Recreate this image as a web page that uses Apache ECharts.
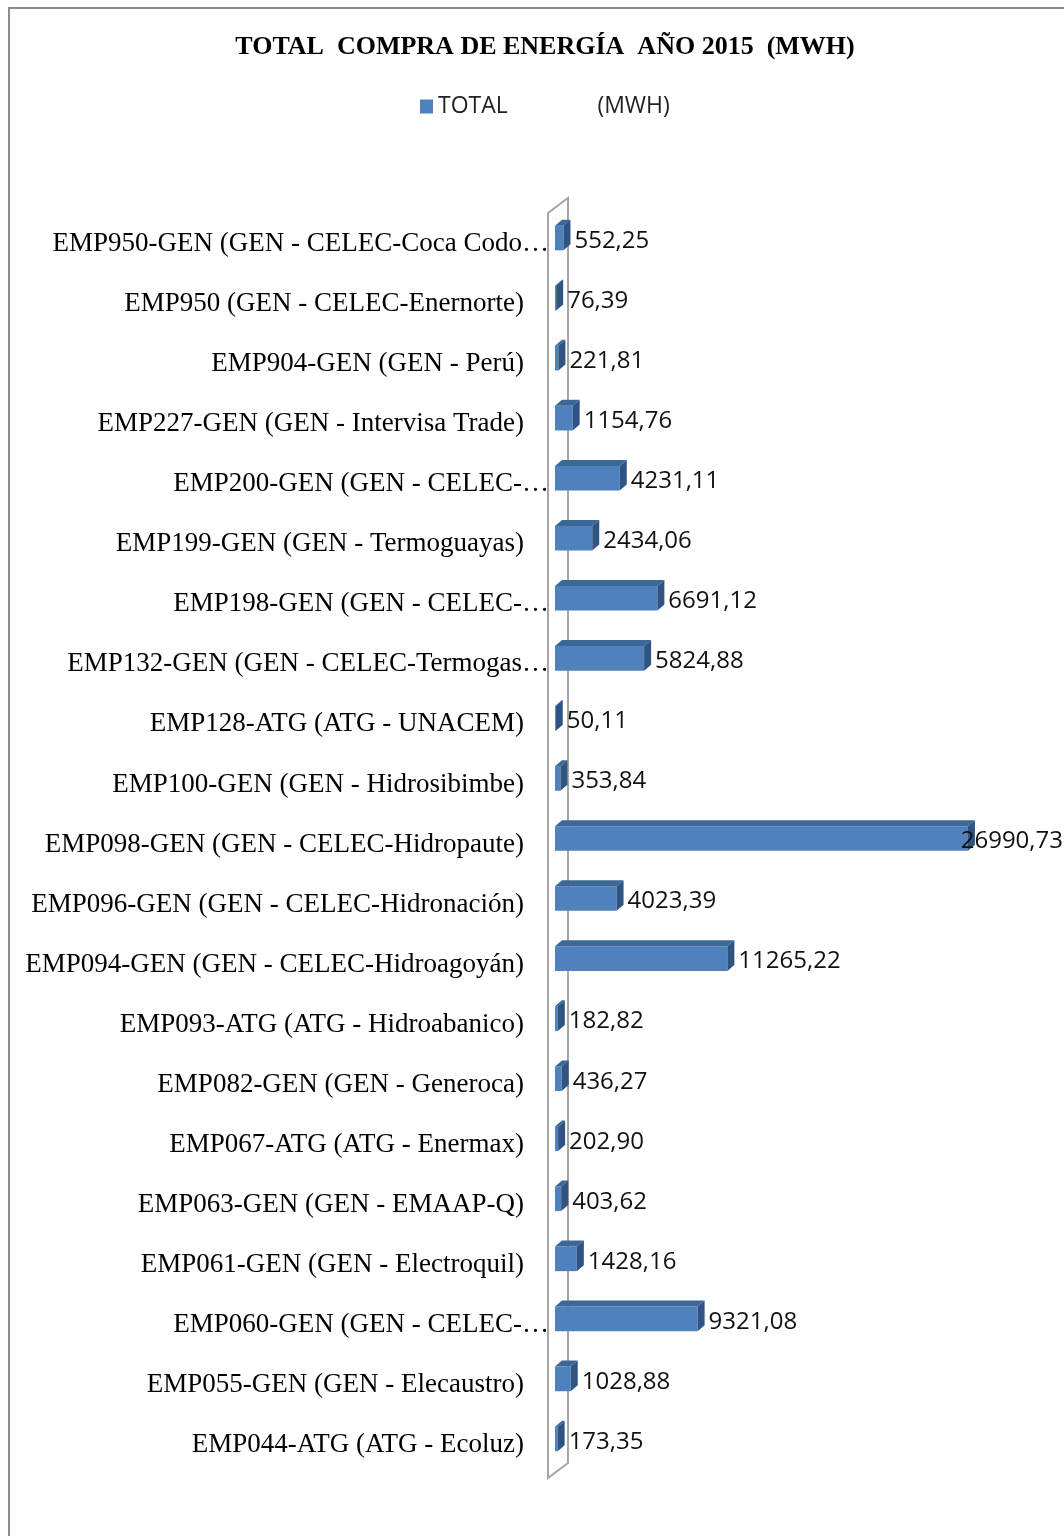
<!DOCTYPE html>
<html>
<head>
<meta charset="utf-8">
<script src="https://cdn.jsdelivr.net/npm/echarts@6/dist/echarts.min.js"></script>
<style>
  html, body { margin: 0; padding: 0; background: #fff; }
  #chart { width: 1064px; height: 1536px; }
</style>
</head>
<body>
<div id="chart"></div>
<script>
// empresas (etiquetas tal como aparecen, recortadas)
var categories = [
  'EMP950-GEN (GEN - CELEC-Coca Codo…',
  'EMP950 (GEN - CELEC-Enernorte)',
  'EMP904-GEN (GEN - Perú)',
  'EMP227-GEN (GEN - Intervisa Trade)',
  'EMP200-GEN (GEN - CELEC-…',
  'EMP199-GEN (GEN - Termoguayas)',
  'EMP198-GEN (GEN - CELEC-…',
  'EMP132-GEN (GEN - CELEC-Termogas…',
  'EMP128-ATG (ATG - UNACEM)',
  'EMP100-GEN (GEN - Hidrosibimbe)',
  'EMP098-GEN (GEN - CELEC-Hidropaute)',
  'EMP096-GEN (GEN - CELEC-Hidronación)',
  'EMP094-GEN (GEN - CELEC-Hidroagoyán)',
  'EMP093-ATG (ATG - Hidroabanico)',
  'EMP082-GEN (GEN - Generoca)',
  'EMP067-ATG (ATG - Enermax)',
  'EMP063-GEN (GEN - EMAAP-Q)',
  'EMP061-GEN (GEN - Electroquil)',
  'EMP060-GEN (GEN - CELEC-…',
  'EMP055-GEN (GEN - Elecaustro)',
  'EMP044-ATG (ATG - Ecoluz)'
];
// total MWh
var totals = [
  552.25, 76.39, 221.81, 1154.76, 4231.11, 2434.06, 6691.12, 5824.88, 50.11, 353.84,
  26990.73, 4023.39, 11265.22, 182.82, 436.27, 202.90, 403.62, 1428.16, 9321.08, 1028.88, 173.35
];
var seriesName = 'TOTAL               (MWH)';

var chart = echarts.init(document.getElementById('chart'));

var DX = 7, DY = 6;
var SERIF = '"Liberation Serif", "DejaVu Serif", serif';

function fmt(v) {
  return v.toFixed(2).replace('.', ',');
}

function renderBar(params, api) {
  var idx = api.value(1);
  var start = api.coord([0, idx]);
  var end = api.coord([api.value(0), idx]);
  var h = api.size([0, 1])[1] * 0.41;
  var x0 = start[0], x1 = end[0];
  var yt = start[1] - h / 2, yb = start[1] + h / 2;
  var label = fmt(api.value(0));
  var tx = x1 + DX + 4, align = 'left';
  if (tx + label.length * 13.5 > 1062) { tx = 1063; align = 'right'; }
  return {
    type: 'group',
    children: [
      { type: 'rect', shape: { x: x0, y: yt, width: Math.max(x1 - x0, 0.5), height: h },
        style: { fill: '#4F81BD' } },
      { type: 'polygon', shape: { points: [[x0, yt], [x0 + DX, yt - DY], [x1 + DX, yt - DY], [x1, yt]] },
        style: { fill: '#3D6796' } },
      { type: 'polygon', shape: { points: [[x1, yt], [x1 + DX, yt - DY], [x1 + DX, yb - DY], [x1, yb]] },
        style: { fill: '#2F5483' } },
      { type: 'text', z2: 10, style: { x: tx, y: start[1] + 3, text: label, align: align, verticalAlign: 'middle',
        font: '24px "Open Sans"', fill: '#111' } }
    ]
  };
}

function renderWall(params, api) {
  var cs = params.coordSys;
  var x0 = api.coord([0, 0])[0];
  var top = cs.y, bot = cs.y + cs.height;
  return {
    type: 'polygon',
    shape: { points: [[x0 - 7, top + 5], [x0 - 7, bot + 9], [x0 + 13, bot - 6], [x0 + 13, top - 10]] },
    style: { fill: '#fff', stroke: '#A6A6A6', lineWidth: 2 }
  };
}

var option = {
  animation: false,
  backgroundColor: '#fff',
  title: {
    text: 'TOTAL  COMPRA DE ENERGÍA  AÑO 2015  (MWH)',
    left: 540, top: 29, textAlign: 'center',
    textStyle: { fontFamily: SERIF, fontSize: 26, fontWeight: 'bold', color: '#000' }
  },
  legend: {
    data: [{ name: seriesName, icon: 'rect' }],
    left: 415, top: 90,
    itemWidth: 13, itemHeight: 14, itemGap: 6,
    textStyle: { fontFamily: '"Open Sans"', fontSize: 23, color: '#222' }
  },
  grid: { left: 555, right: 50, top: 208, bottom: 67 },
  xAxis: { type: 'value', min: 0, max: 30000, show: false },
  yAxis: {
    type: 'category', data: categories, inverse: true,
    axisLine: { show: false }, axisTick: { show: false }, splitLine: { show: false },
    axisLabel: {
      margin: 6, fontFamily: SERIF, fontSize: 27, color: '#000',
      formatter: function (v) {
        // las etiquetas recortadas llegan hasta el muro; las demás quedan 25px antes
        if (v.charAt(v.length - 1) === '…') {
          return '{a|' + v + '}';
        }
        return '{a|' + v + '}{s| }';
      },
      rich: {
        a: { fontFamily: SERIF, fontSize: 27, color: '#000', padding: [12, 0, 0, 0] },
        s: { fontFamily: SERIF, fontSize: 27, width: 25, padding: [12, 0, 0, 0] }
      }
    }
  },
  graphic: [
    { type: 'rect', shape: { x: 9, y: 8, width: 1200, height: 1700 }, silent: true, z: -10,
      style: { fill: 'none', stroke: '#8C8C8C', lineWidth: 2 } }
  ],
  series: [
    { type: 'custom', name: 'wall', renderItem: renderWall, data: [[0, 0]], encode: { x: 0, y: 1 }, z: 1, silent: true },
    { type: 'custom', name: seriesName, renderItem: renderBar, itemStyle: { color: '#4F81BD' },
      data: totals.map(function (v, i) { return [v, i]; }), encode: { x: 0, y: 1 }, z: 2 }
  ]
};

chart.setOption(option);
</script>
</body>
</html>
